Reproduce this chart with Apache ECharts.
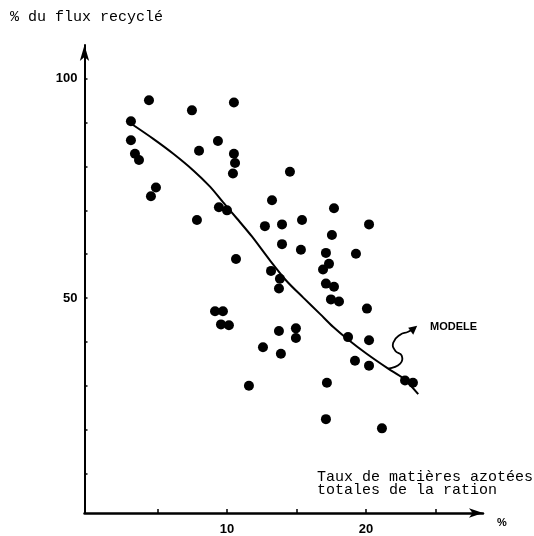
<!DOCTYPE html>
<html>
<head>
<meta charset="utf-8">
<script src="https://cdn.jsdelivr.net/npm/echarts@6/dist/echarts.min.js"></script>
<style>
html,body{margin:0;padding:0;background:#fff;}
#chart{width:534px;height:536px;}
</style>
</head>
<body>
<div id="chart"></div>
<script>
// Observed points: % N-total of ration (x) vs % of recycled flux (y)
var pointsX = [3.09,4.39,3.09,3.38,3.67,4.89,4.53,7.48,10.50,9.35,7.99,10.50,10.58,10.43,9.42,10.00,7.84,14.53,13.24,12.73,13.96,15.40,17.70,13.96,15.32,10.65,17.12,19.28,20.22,17.55,17.34,16.91,13.17,13.81,13.74,17.12,17.70,17.48,18.06,20.07,9.14,9.71,9.57,10.14,13.74,14.96,14.96,18.71,20.22,12.59,13.88,19.21,20.22,17.19,22.81,23.38,17.12,21.15,11.58];
var pointsY = [90.3,95.1,86.0,82.9,81.5,75.2,73.2,92.8,94.6,85.8,83.6,82.9,80.8,78.4,70.7,70.0,67.8,78.8,72.3,66.4,66.8,67.8,70.5,62.3,61.0,58.9,60.3,60.1,66.8,64.4,57.8,56.5,56.2,54.4,52.2,53.3,52.6,49.7,49.2,47.6,47.0,47.0,44.0,43.8,42.5,43.1,40.9,41.1,40.4,38.8,37.3,35.7,34.6,30.7,31.2,30.7,22.4,20.3,30.0];
// Model curve
var modelX = [3.09,4.70,6.14,7.58,8.78,9.73,10.70,11.78,13.09,14.29,15.49,16.69,17.65,18.73,20.05,21.60,22.68,23.76];
var modelY = [89.8,86.3,82.9,79.1,75.4,71.8,68.2,64.1,58.6,53.9,50.1,46.4,43.4,40.5,37.3,33.9,31.7,28.1];
var modelArrowIndex = 15;
// Ticks and labels
var xTicks = [5,10,15,20,25];
var xLabels = [10,20];
var yTicks = [10,20,30,40,50,60,70,80,90,100];
var yLabels = [50,100];
var yTitle = '% du flux recyclé';
var xTitle = 'Taux de matières azotées\ntotales de la ration';
var xUnit = '%';
var modelName = 'MODELE';

var pts = pointsX.map(function(x,i){return [x,pointsY[i]];});
var curve = modelX.map(function(x,i){return [x,modelY[i]];});

var chart = echarts.init(document.getElementById('chart'), null, {renderer:'canvas'});
var option = {
  backgroundColor:'#ffffff',
  animation:false,
  grid:{left:84.5, right:51, top:45, bottom:18.5, containLabel:false},
  xAxis:{
    type:'value', min:-0.25, max:28.42,
    splitLine:{show:false},
    axisLine:{show:true, onZero:false, lineStyle:{color:'#000', width:2.5}, symbol:['none','arrow'], symbolSize:[7,14]},
    axisTick:{show:true, inside:true, length:4, lineStyle:{color:'#000', width:1.5}, customValues:xTicks},
    axisLabel:{show:true, customValues:xLabels, margin:10, color:'#000', fontFamily:'Liberation Sans', fontWeight:'bold', fontSize:13}
  },
  yAxis:{
    type:'value', min:1.0, max:107.7,
    splitLine:{show:false},
    axisLine:{show:true, onZero:false, lineStyle:{color:'#000', width:2}, symbol:['none','arrow'], symbolSize:[7,16]},
    axisTick:{show:true, inside:true, length:3, lineStyle:{color:'#000', width:1.5}, customValues:yTicks},
    axisLabel:{show:true, customValues:yLabels, margin:7, color:'#000', fontFamily:'Liberation Sans', fontWeight:'bold', fontSize:13}
  },
  series:[
    {type:'scatter', data:pts, symbol:'circle', symbolSize:10, itemStyle:{color:'#000', opacity:1}, z:3},
    {type:'line', data:curve, smooth:0.3, showSymbol:false, symbol:'none', lineStyle:{color:'#000', width:2}, z:2}
  ]
};
chart.setOption(option);

var a = chart.convertToPixel({gridIndex:0}, curve[modelArrowIndex]);
var ax = a[0], ay = a[1];
chart.setOption({
  graphic:[
    {type:'text', left:10, top:10, style:{text:yTitle, font:'15px "Liberation Mono"', fill:'#000'}},
    {type:'text', left:317, top:470, style:{text:xTitle, font:'15px "Liberation Mono"', lineHeight:13, fill:'#000'}},
    {type:'text', left:497, top:517, style:{text:xUnit, font:'bold 11px "Liberation Sans"', fill:'#000'}},
    {type:'text', left:430, top:321, style:{text:modelName, font:'bold 11px "Liberation Sans"', fill:'#000'}},
    {type:'polyline', shape:{points:[[ax,ay],[ax+12,ay-5],[ax+13.5,ay-13],[ax+7,ay-18],[ax+5,ay-26],[ax+12,ay-34],[ax+20,ay-37],[ax+27,ay-41]], smooth:0.5}, style:{stroke:'#000', lineWidth:1.8, fill:null}},
    {type:'polygon', shape:{points:[[ax+29,ay-43],[ax+20,ay-41],[ax+25,ay-34]]}, style:{fill:'#000'}}
  ]
});
</script>
</body>
</html>
